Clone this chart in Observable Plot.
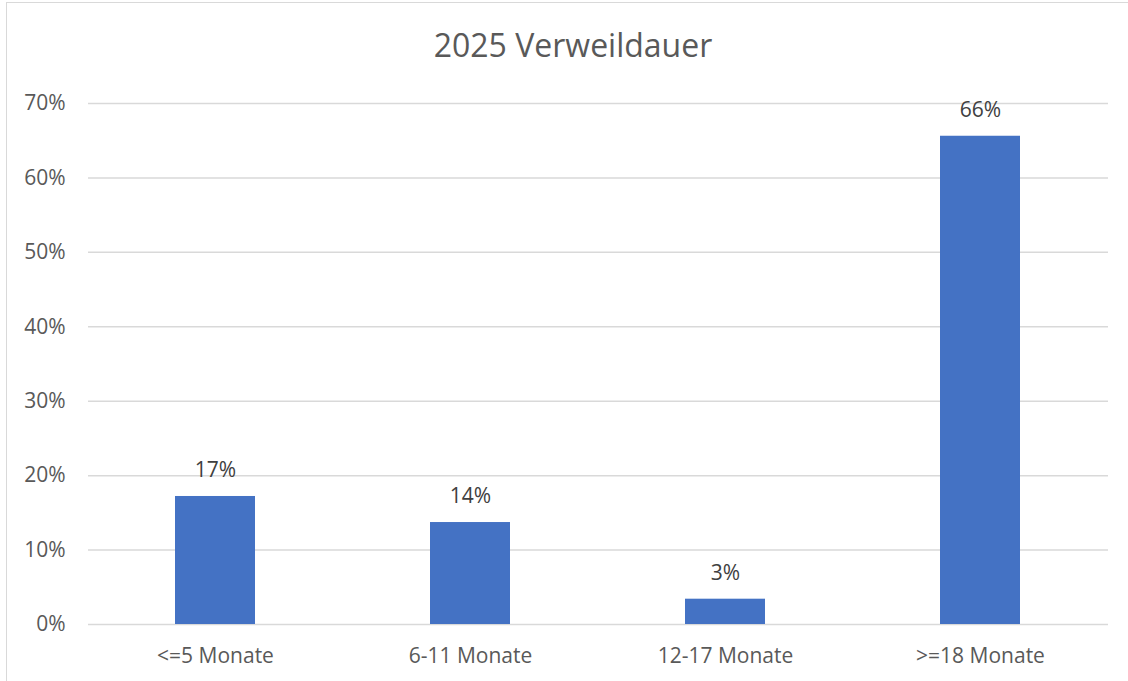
<!DOCTYPE html>
<html>
<head>
<meta charset="utf-8">
<script src="https://cdn.jsdelivr.net/npm/d3@7"></script>
<script src="https://cdn.jsdelivr.net/npm/@observablehq/plot@0.6"></script>
<style>
  html, body { margin: 0; padding: 0; background: #fff; }
  body { width: 1128px; height: 681px; position: relative; overflow: hidden; font-family: "Open Sans", sans-serif; }
  #frame { position: absolute; left: 6px; top: 2px; width: 1140px; height: 700px; border: 1.5px solid #d9d9d9; box-sizing: border-box; }
  #title { position: absolute; left: 0; top: 23px; width: 1146px; text-align: center; font-size: 32px; color: #595959; }
  #chart { position: absolute; left: 0; top: 0; }
</style>
</head>
<body>
<div id="frame"></div>
<div id="chart"></div>
<div id="title">2025 Verweildauer</div>
<script>
const categories = ["<=5 Monate", "6-11 Monate", "12-17 Monate", ">=18 Monate"];
const values = [0.172, 0.137, 0.034, 0.656];
const yTicks = [0, 0.1, 0.2, 0.3, 0.4, 0.5, 0.6, 0.7];

const data = categories.map((c, i) => ({category: c, value: values[i]}));
const pct = d3.format(".0%");

const chart = Plot.plot({
  width: 1128,
  height: 681,
  marginTop: 103,
  marginBottom: 57,
  marginLeft: 88,
  marginRight: 20,
  style: {fontFamily: "'Open Sans', sans-serif", fontSize: "21px", color: "#595959", background: "transparent"},
  x: {domain: categories, paddingInner: 0.686, paddingOuter: 0.343, label: null, tickSize: 0, tickPadding: 24},
  y: {domain: [0, 0.7], ticks: yTicks, tickFormat: pct, label: null, tickSize: 0, tickPadding: 23},
  marks: [
    Plot.gridY(yTicks, {stroke: "#d9d9d9", strokeOpacity: 1, strokeWidth: 1.5}),
    Plot.barY(data, {x: "category", y: "value", fill: "#4472C4"}),
    Plot.text(data, {x: "category", y: "value", text: d => pct(d.value), dy: -26, fill: "#404040", fontSize: 21})
  ]
});
document.getElementById("chart").appendChild(chart);
</script>
</body>
</html>
